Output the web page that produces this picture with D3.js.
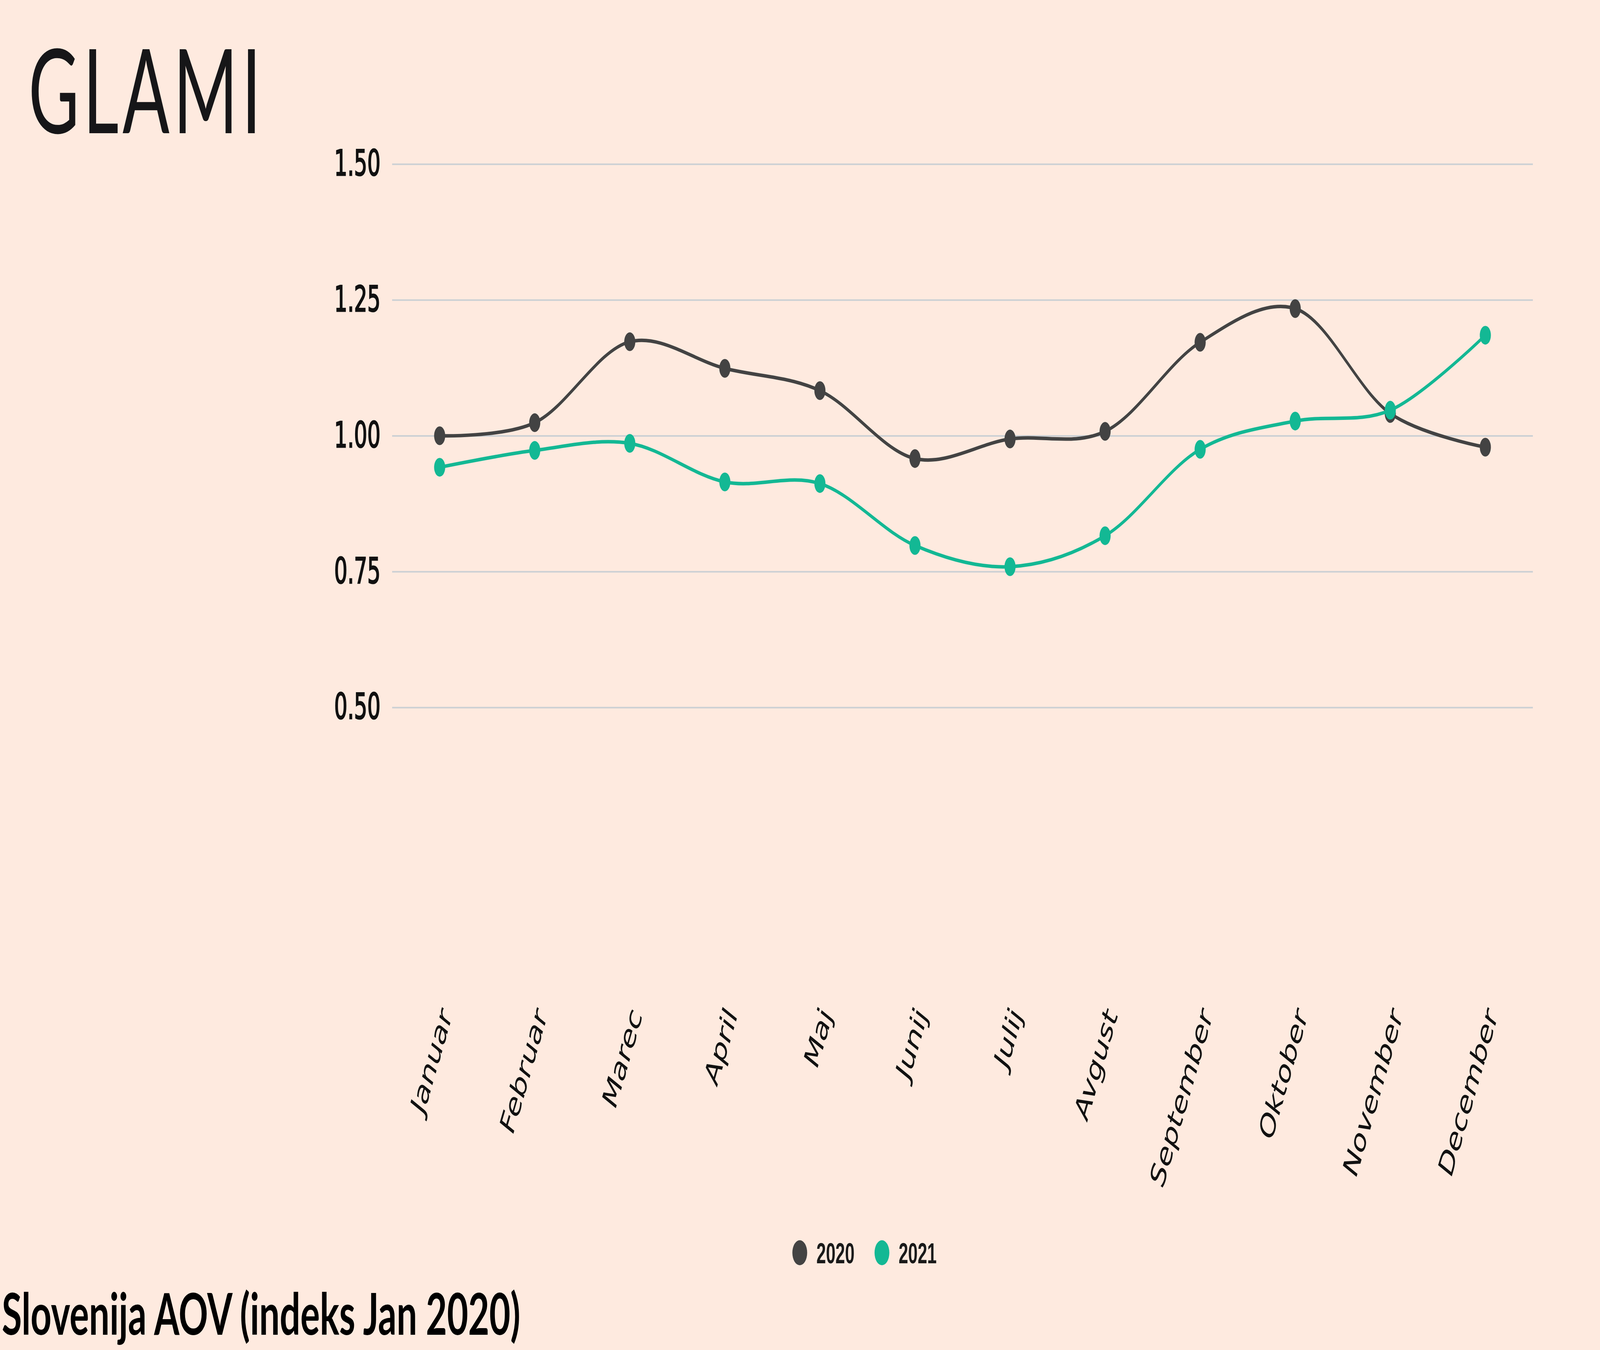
<!DOCTYPE html>
<html>
<head>
<meta charset="utf-8">
<script src="https://cdn.jsdelivr.net/npm/d3@7"></script>
<style>
  html, body { margin: 0; padding: 0; background: #feeadf; overflow: hidden; width: 100%; height: 100%; }
  #chart { width: 100vw; height: 100vh; }
  svg { display: block; width: 100%; height: 100%; }
</style>
</head>
<body>
<div id="chart"></div>
<script>
const months = ['Januar', 'Februar', 'Marec', 'April', 'Maj', 'Junij', 'Julij', 'Avgust', 'September', 'Oktober', 'November', 'December'];
const values2020 = [1.000, 1.024, 1.173, 1.124, 1.083, 0.958, 0.994, 1.008, 1.172, 1.234, 1.041, 0.979];
const values2021 = [0.942, 0.973, 0.986, 0.915, 0.912, 0.798, 0.759, 0.816, 0.975, 1.027, 1.047, 1.185];
const yTicks = [0.5, 0.75, 1.0, 1.25, 1.5];
const seriesNames = ['2020', '2021'];
const seriesColors = ['#434343', '#13b894'];

const W = 6912, H = 3456;
const plotLeft = 1694, plotRight = 6622, plotTop = 420, plotBottom = 1811;

// the drawing is laid out on a 6912x3456 canvas and fills the window
const svg = d3.select('#chart')
  .append('svg')
  .attr('viewBox', `0 0 ${W} ${H}`)
  .attr('preserveAspectRatio', 'none');

svg.append('rect').attr('width', W).attr('height', H).attr('fill', '#feeadf');

// logo
svg.append('text')
  .attr('x', 123)
  .attr('y', 341)
  .attr('font-family', 'Lato, sans-serif')
  .attr('font-weight', 400)
  .attr('font-size', 300)
  .attr('textLength', 1005)
  .attr('lengthAdjust', 'spacing')
  .attr('fill', '#161618')
  .text('GLAMI');

const x = d3.scalePoint().domain(months).range([plotLeft, plotRight]).padding(0.5);
const y = d3.scaleLinear().domain([0.5, 1.5]).range([plotBottom, plotTop]);

// y axis + gridlines
const yAxis = svg.append('g')
  .attr('transform', `translate(${plotLeft},0)`)
  .call(d3.axisLeft(y)
    .tickValues(yTicks)
    .tickFormat(d3.format('.2f'))
    .tickSizeInner(-(plotRight - plotLeft))
    .tickSizeOuter(0)
    .tickPadding(50));
yAxis.select('.domain').remove();
yAxis.selectAll('.tick line').attr('stroke', '#cbd0d4').attr('stroke-width', 4);
yAxis.selectAll('.tick text')
  .attr('font-family', '"DejaVu Sans", sans-serif')
  .attr('font-size', 90)
  .attr('fill', '#111')
  .attr('stroke', '#111')
  .attr('stroke-width', 3);

// x axis labels
const xAxis = svg.append('g')
  .attr('transform', 'translate(0,2600)')
  .call(d3.axisBottom(x).tickSize(0).tickPadding(0));
xAxis.select('.domain').remove();
xAxis.selectAll('.tick text')
  .attr('font-family', '"DejaVu Sans", sans-serif')
  .attr('font-size', 90)
  .attr('fill', '#111')
  .attr('text-anchor', 'end')
  .attr('dy', 0)
  .attr('transform', 'translate(55,0) rotate(-64)');

// lines
const line = d3.line()
  .x((d, i) => x(months[i]))
  .y(d => y(d))
  .curve(d3.curveCatmullRom.alpha(0.5));

const series = [values2020, values2021];
series.forEach((vals, s) => {
  svg.append('path')
    .datum(vals)
    .attr('d', line)
    .attr('fill', 'none')
    .attr('stroke', seriesColors[s])
    .attr('stroke-width', 9);
  svg.append('g').selectAll('circle')
    .data(vals)
    .enter()
    .append('circle')
    .attr('cx', (d, i) => x(months[i]))
    .attr('cy', d => y(d))
    .attr('r', 24)
    .attr('fill', seriesColors[s]);
});

// legend
const legend = svg.append('g').attr('transform', 'translate(3455,3207)');
const item = legend.selectAll('g')
  .data(seriesNames)
  .enter()
  .append('g')
  .attr('transform', (d, i) => `translate(${i * 355},0)`);
item.append('circle').attr('r', 32).attr('fill', (d, i) => seriesColors[i]);
item.append('text')
  .attr('x', 72)
  .attr('dy', '0.36em')
  .attr('font-family', '"Liberation Sans", Arial, sans-serif')
  .attr('font-weight', 700)
  .attr('font-size', 74)
  .attr('fill', '#1a1a1a')
  .text(d => d);

// title
svg.append('text')
  .attr('x', 8)
  .attr('y', 3417)
  .attr('font-family', 'Lato, sans-serif')
  .attr('font-weight', 700)
  .attr('font-size', 148)
  .attr('textLength', 2240)
  .attr('lengthAdjust', 'spacingAndGlyphs')
  .attr('fill', '#000')
  .text('Slovenija AOV (indeks Jan 2020)');
</script>
</body>
</html>
